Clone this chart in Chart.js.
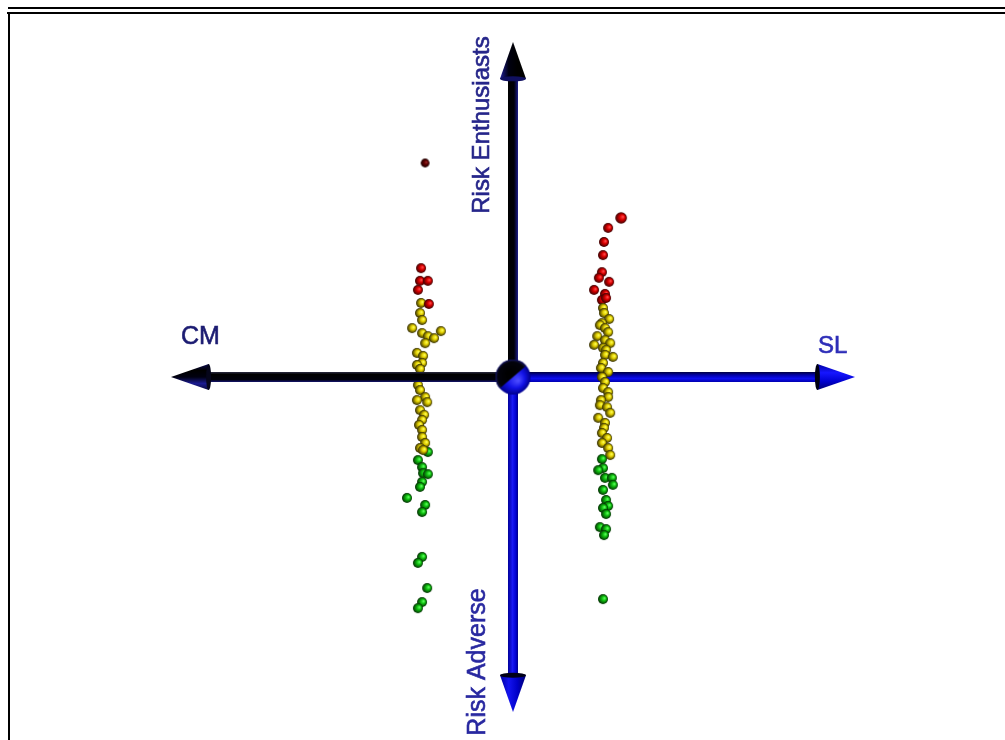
<!DOCTYPE html>
<html><head><meta charset="utf-8">
<script src="https://cdn.jsdelivr.net/npm/chart.js@4.4.0/dist/chart.umd.min.js"></script>
<style>
html,body{margin:0;padding:0;background:#fff;overflow:hidden}
#wrap{position:relative;width:1005px;height:740px}
#c{position:absolute;left:0;top:0}
.b{position:absolute;background:#000}
</style></head><body>
<div id="wrap"><canvas id="c" width="1005" height="740"></canvas>
<div class="b" style="left:8px;top:7px;width:997px;height:2px"></div>
<div class="b" style="left:7px;top:12px;width:998px;height:2px"></div>
<div class="b" style="left:8px;top:12px;width:2px;height:728px"></div>
</div>
<script>
// ---- data ----
const axisNames = ['CM', 'SL', 'Risk Enthusiasts', 'Risk Adverse'];
const axisReach = 10;
const headLength = 1.1;

const cmDark = [[-2.57, 6.39]];
const cmRed = [[-2.69,3.25],[-2.72,2.87],[-2.49,2.87],[-2.78,2.60],[-2.46,2.18]];
const cmYellow = [[-2.69,2.21],[-2.72,1.91],[-2.66,1.70],[-2.95,1.46],[-2.66,1.31],[-2.49,1.22],[-2.11,1.37],[-2.31,1.16],[-2.57,1.01],[-2.81,0.72],[-2.63,0.63],[-2.66,0.42],[-2.81,0.36],[-2.72,0.24],[-2.78,-0.24],[-2.72,-0.39],[-2.57,-0.60],[-2.81,-0.69],[-2.51,-0.75],[-2.72,-0.99],[-2.60,-1.13],[-2.66,-1.28],[-2.75,-1.43],[-2.66,-1.58],[-2.66,-1.79],[-2.57,-1.97],[-2.72,-2.12],[-2.63,-2.18]];
const cmGreen = [[-2.49,-2.24],[-2.78,-2.48],[-2.66,-2.69],[-2.63,-2.87],[-2.49,-2.90],[-2.66,-3.13],[-2.72,-3.28],[-3.10,-3.61],[-2.57,-3.82],[-2.66,-4.03],[-2.66,-5.37],[-2.78,-5.55],[-2.51,-6.30],[-2.66,-6.72],[-2.78,-6.90]];

const slRed = [[3.16,4.75],[2.78,4.45],[2.66,4.03],[2.63,3.64],[2.60,3.13],[2.51,2.96],[2.81,2.84],[2.37,2.60],[2.69,2.48],[2.60,2.30],[2.72,2.36]];
const slYellow = [[2.63,2.06],[2.66,1.91],[2.81,1.73],[2.60,1.61],[2.54,1.55],[2.69,1.46],[2.78,1.34],[2.46,1.22],[2.69,1.10],[2.84,1.01],[2.37,0.96],[2.63,0.87],[2.72,0.81],[2.69,0.66],[2.92,0.60],[2.63,0.42],[2.57,0.27],[2.78,0.15],[2.60,0.00],[2.69,-0.15],[2.63,-0.33],[2.78,-0.45],[2.78,-0.60],[2.57,-0.69],[2.54,-0.84],[2.75,-0.90],[2.84,-1.07],[2.49,-1.22],[2.69,-1.37],[2.66,-1.52],[2.60,-1.67],[2.75,-1.82],[2.60,-1.97],[2.78,-2.12],[2.84,-2.33]];
const slGreen = [[2.60,-2.45],[2.63,-2.72],[2.49,-2.78],[2.69,-3.01],[2.89,-3.01],[2.92,-3.22],[2.63,-3.37],[2.72,-3.67],[2.78,-3.85],[2.63,-3.91],[2.72,-4.09],[2.54,-4.48],[2.72,-4.54],[2.66,-4.72],[2.63,-6.63]];

// ---- helpers ----
const toPts = a => a.map(p => ({x: p[0], y: p[1]}));

function sphere(r, light, base, dark) {
  const s = Math.ceil(2 * r + 2);
  const c = document.createElement('canvas'); c.width = c.height = s;
  const g = c.getContext('2d'); const cx = s / 2, cy = s / 2;
  const gr = g.createRadialGradient(cx + 0.35 * r, cy - 0.2 * r, 0.05 * r, cx, cy, r);
  gr.addColorStop(0, light); gr.addColorStop(0.4, base); gr.addColorStop(1, dark);
  g.fillStyle = gr; g.beginPath(); g.arc(cx, cy, r, 0, Math.PI * 2); g.fill();
  return c;
}
function hub(r) {
  const s = Math.ceil(2 * r + 2);
  const c = document.createElement('canvas'); c.width = c.height = s;
  const g = c.getContext('2d'); const cx = s / 2, cy = s / 2;
  const gr = g.createRadialGradient(cx + 0.3 * r, cy + 0.2 * r, 0.05 * r, cx, cy, r);
  gr.addColorStop(0, '#4a4aff'); gr.addColorStop(0.5, '#1212e6'); gr.addColorStop(1, '#00008a');
  g.fillStyle = gr; g.beginPath(); g.arc(cx, cy, r, 0, Math.PI * 2); g.fill();
  g.save(); g.beginPath(); g.arc(cx, cy, r, 0, Math.PI * 2); g.clip();
  const k = 23 / 27;
  g.beginPath();
  g.moveTo(cx - 2 * r, cy + 2 * r * k);
  g.lineTo(cx + 2 * r, cy - 2 * r * k);
  g.lineTo(cx + 2 * r, cy - 3 * r);
  g.lineTo(cx - 3 * r, cy - 3 * r);
  g.closePath();
  const dg = g.createRadialGradient(cx - 0.2 * r, cy - 0.2 * r, 0.1 * r, cx, cy, r);
  dg.addColorStop(0, '#000000'); dg.addColorStop(0.8, '#03030c'); dg.addColorStop(1, '#16165a');
  g.fillStyle = dg; g.fill(); g.restore();
  return c;
}

const imgYellow = sphere(5, '#ffff55', '#e2cf00', '#2e2800');
const imgRed = sphere(5, '#ff4a4a', '#dc0000', '#380000');
const imgRedBig = sphere(5.8, '#ff4a4a', '#dc0000', '#380000');
const imgGreen = sphere(5, '#5cff5c', '#10c010', '#002c00');
const imgDark = sphere(4.4, '#9a2a2a', '#600000', '#1a0000');
const imgHub = hub(17.5);

const solid = {left: '#000000', right: '#0a0ad8', up: '#000000', down: '#0a0ad8'};
function shaftColor(kind) {
  return (ctx) => {
    const ch = ctx.chart; const sx = ch.scales && ch.scales.x, sy = ch.scales && ch.scales.y;
    if (!sx || !sy) return solid[kind];
    const c = ch.ctx; const x0 = sx.getPixelForValue(0), y0 = sy.getPixelForValue(0);
    if (!isFinite(x0) || !isFinite(y0)) return solid[kind];
    let g;
    if (kind === 'left') {
      g = c.createLinearGradient(0, y0 - 5, 0, y0 + 5);
      g.addColorStop(0, '#2a2a40'); g.addColorStop(0.25, '#000000'); g.addColorStop(0.75, '#00000c'); g.addColorStop(1, '#14146e');
    } else if (kind === 'right') {
      g = c.createLinearGradient(0, y0 - 5, 0, y0 + 5);
      g.addColorStop(0, '#000040'); g.addColorStop(0.3, '#0000a8'); g.addColorStop(0.65, '#0c0cf0'); g.addColorStop(1, '#0000b0');
    } else if (kind === 'up') {
      g = c.createLinearGradient(x0 - 5, 0, x0 + 5, 0);
      g.addColorStop(0, '#000000'); g.addColorStop(0.6, '#000008'); g.addColorStop(1, '#1c1c8a');
    } else {
      g = c.createLinearGradient(x0 - 5, 0, x0 + 5, 0);
      g.addColorStop(0, '#00009a'); g.addColorStop(0.45, '#1a1af4'); g.addColorStop(0.8, '#0000d0'); g.addColorStop(1, '#000080');
    }
    return g;
  };
}

function shaft(data, kind) {
  return {data: toPts(data), showLine: true, pointRadius: 0, borderWidth: 10, borderCapStyle: 'butt',
    borderColor: shaftColor(kind), order: 3, clip: false};
}
function pts(data, img, order) {
  return {data: toPts(data), pointStyle: img, pointRadius: 5, showLine: false, order: order, clip: false};
}

const decor = {
  id: 'decor',
  afterDatasetsDraw(chart) {
    const c = chart.ctx, sx = chart.scales.x, sy = chart.scales.y;
    const x0 = sx.getPixelForValue(0), y0 = sy.getPixelForValue(0);
    const hw = 13;
    function cone(tx, ty, bx, by, stops, ring) {
      const dx = bx - tx, dy = by - ty, L = Math.hypot(dx, dy);
      const nx = -dy / L, ny = dx / L;
      const g = c.createLinearGradient(bx + nx * hw, by + ny * hw, bx - nx * hw, by - ny * hw);
      stops.forEach((s, i) => g.addColorStop(i / (stops.length - 1), s));
      c.save();
      c.beginPath(); c.moveTo(tx, ty); c.lineTo(bx + nx * hw, by + ny * hw); c.lineTo(bx - nx * hw, by - ny * hw); c.closePath();
      c.fillStyle = g; c.fill();
      c.beginPath(); c.ellipse(bx, by, 2.5, hw, Math.atan2(dy, dx), 0, Math.PI * 2);
      c.fillStyle = ring; c.fill();
      c.restore();
    }
    const L = axisReach, B = axisReach - headLength;
    cone(sx.getPixelForValue(-L), y0, sx.getPixelForValue(-B), y0,
      ['#0a0a3a', '#1a1a90', '#000010', '#000000', '#0a0a50'], '#05051a');
    cone(sx.getPixelForValue(L), y0, sx.getPixelForValue(B), y0,
      ['#0000a0', '#1616ff', '#0000d0', '#000070'], '#000010');
    cone(x0, sy.getPixelForValue(L), x0, sy.getPixelForValue(B),
      ['#20209a', '#000010', '#000000', '#000000'], '#101060');
    cone(x0, sy.getPixelForValue(-L), x0, sy.getPixelForValue(-B),
      ['#000070', '#0000c8', '#1414f0', '#0000a0'], '#000018');

    function label(text, font, color, x, y, rot, align) {
      c.save();
      c.font = font; c.textBaseline = 'alphabetic'; c.textAlign = align;
      c.fillStyle = color; c.strokeStyle = color; c.lineWidth = 0.6;
      c.translate(x, y); c.rotate(rot);
      c.fillText(text, 0, 0); c.strokeText(text, 0, 0);
      c.restore();
    }
    label(axisNames[0], '25px "Liberation Sans", Arial, sans-serif', '#1c1c72',
      sx.getPixelForValue(-L) + 10, y0 - 33, 0, 'left');
    label(axisNames[1], '24px "Liberation Sans", Arial, sans-serif', '#2e2eb8',
      sx.getPixelForValue(L) - 37, y0 - 24, 0, 'left');
    label(axisNames[2], '24px "Liberation Sans", Arial, sans-serif', '#26268a',
      x0 - 24, sy.getPixelForValue(L) + 83, -Math.PI / 2, 'center');
    label(axisNames[3], '25px "Liberation Sans", Arial, sans-serif', '#2828a0',
      x0 - 28, sy.getPixelForValue(-L) - 50, -Math.PI / 2, 'center');
  }
};

const chart = new Chart(document.getElementById('c'), {
  type: 'scatter',
  data: {
    datasets: [
      pts(cmDark, imgDark, 6),
      pts(cmRed, imgRed, 6),
      pts(cmYellow, imgYellow, 6),
      pts(cmGreen, imgGreen, 6),
      shaft([[-(axisReach - headLength), 0], [0, 0]], 'left'),
      shaft([[0, 0], [axisReach - headLength, 0]], 'right'),
      shaft([[0, 0], [0, axisReach - headLength]], 'up'),
      shaft([[0, 0], [0, -(axisReach - headLength)]], 'down'),
      {data: [{x: 0, y: 0}], pointStyle: imgHub, pointRadius: 17, order: 2, clip: false},
      pts(slGreen, imgGreen, 1),
      pts(slYellow, imgYellow, 1),
      pts(slRed.slice(1), imgRed, 1),
      pts(slRed.slice(0, 1), imgRedBig, 1)
    ]
  },
  options: {
    responsive: false,
    animation: false,
    layout: {padding: 0, autoPadding: false},
    plugins: {legend: {display: false}, tooltip: {enabled: false}},
    scales: {
      x: {type: 'linear', min: -15, max: 14.386, display: false},
      y: {type: 'linear', min: -10.836, max: 11.254, display: false}
    }
  },
  plugins: [decor]
});
chart.update();
</script>
</body></html>
